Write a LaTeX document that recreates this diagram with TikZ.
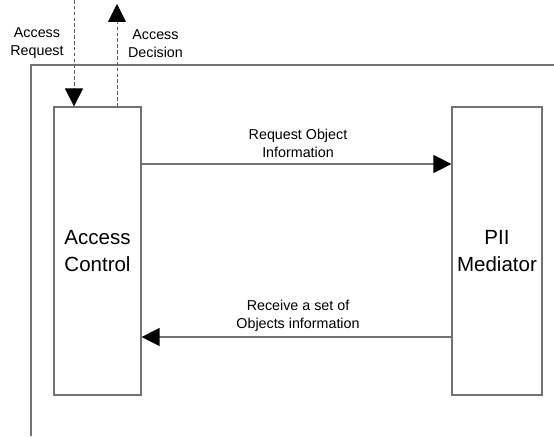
\documentclass[tikz,border=0pt]{standalone}
\usepackage{fontspec}
\setmainfont{Liberation Sans}
\usetikzlibrary{arrows.meta}
\tikzset{
  block/.style={draw=black!55, line width=1pt, minimum width=2.61cm, minimum height=8.64cm,
    font=\fontsize{17.5}{23}\selectfont, align=center, inner sep=0pt},
  msg/.style={font=\fontsize{12.2}{15.3}\selectfont, align=center, inner sep=0pt},
  tip/.style={-{Triangle[length=15.3pt, width=15.3pt, color=black]}},
  link/.style={draw=black!55, line width=1pt, tip},
  ext/.style={draw=black!65, line width=0.6pt, dash pattern=on 3pt off 2pt, tip}
}
\begin{document}
\begin{tikzpicture}
  \begin{scope}[x=0.03cm, y=-0.03cm]
    \useasboundingbox (0,0) rectangle (554,436);

    % Frame
    \draw[black!55, line width=1.2pt] (31,436) -- (31,65) -- (554,65);

    % Components
    \node[block] (ac) at (97.5,251) {Access\\Control};
    \node[block, minimum width=2.7cm] (pii) at (497,251) {PII\\Mediator};

    % Labels
    \node[msg] (reqlbl) at (37,43.5) {Access\\Request};
    \node[msg] (declbl) at (155.5,43.5) {Access\\Decision};
    \node[msg] (objreq) at (298,143) {Request Object\\Information};
    \node[msg] (objrec) at (298,316) {Receive a set of\\Objects information};

    \coordinate (reqtop) at (74,0);
    \coordinate (dectop) at (117,4);
    \coordinate (reqy) at (0,164);
    \coordinate (recy) at (0,337);

    \draw[ext] (reqtop) -- (ac.north -| reqtop);
    \draw[ext] (ac.north -| dectop) -- (dectop);

    \draw[link] (ac.east |- reqy) -- (pii.west |- reqy);
    \draw[link] (pii.west |- recy) -- (ac.east |- recy);
  \end{scope}
\end{tikzpicture}
\end{document}
